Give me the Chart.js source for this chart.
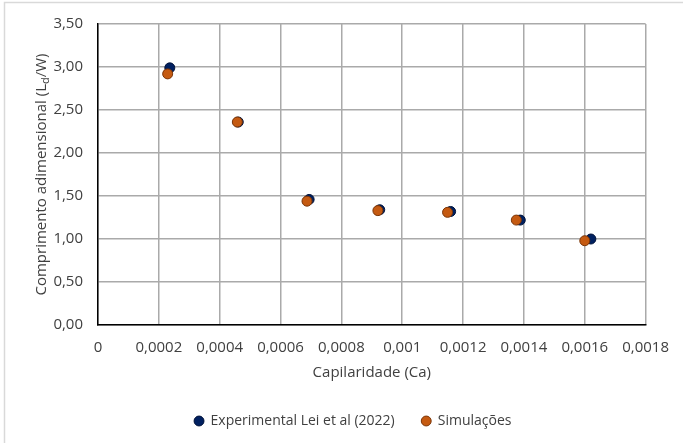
<!DOCTYPE html>
<html>
<head>
<meta charset="utf-8">
<script src="https://cdn.jsdelivr.net/npm/chart.js@4"></script>
<style>
html,body{margin:0;padding:0;background:#fff;}
#wrap{width:683px;height:443px;position:relative;}
</style>
</head>
<body>
<div id="wrap"><canvas id="c" width="683" height="443"></canvas></div>
<script>
const expX = [0.000236, 0.000461, 0.000694, 0.000926, 0.001159, 0.001388, 0.00162];
const expY = [2.99, 2.36, 1.46, 1.34, 1.32, 1.22, 1.00];
const simX = [0.000229, 0.000458, 0.000687, 0.000920, 0.001149, 0.001375, 0.001600];
const simY = [2.92, 2.36, 1.44, 1.33, 1.31, 1.22, 0.98];
const xTickLabels = ["0","0,0002","0,0004","0,0006","0,0008","0,001","0,0012","0,0014","0,0016","0,0018"];
const yTickLabels = ["0,00","0,50","1,00","1,50","2,00","2,50","3,00","3,50"];
const seriesNames = ["Experimental Lei et al (2022)", "Simulações"];

const FONT = "Open Sans";
const TXT = "#404040";

const framePlugin = {
  id: 'frame',
  beforeDraw(chart) {
    const ctx = chart.ctx;
    ctx.save();
    ctx.fillStyle = '#fff';
    ctx.fillRect(0, 0, chart.width, chart.height);
    ctx.strokeStyle = '#d9d9d9';
    ctx.lineWidth = 1.5;
    ctx.strokeRect(4.5, 2.5, chart.width + 10, chart.height + 10);
    ctx.restore();
  }
};

const legendShift = {
  id: 'legendShift',
  afterLayout(chart) {
    const lg = chart.legend;
    if (!lg) return;
    lg.left += 28; lg.right += 28;
    lg.top += 5; lg.bottom += 5;
  }
};

const yTitlePlugin = {
  id: 'ytitle',
  afterDraw(chart) {
    const ctx = chart.ctx;
    const a = chart.chartArea;
    const cy = (a.top + a.bottom) / 2;
    ctx.save();
    ctx.translate(42, cy);
    ctx.rotate(-Math.PI / 2);
    ctx.fillStyle = TXT;
    ctx.textBaseline = 'middle';
    const f1 = '15px "' + FONT + '"', f2 = '11px "' + FONT + '"';
    const p1 = 'Comprimento adimensional (L', p2 = 'd', p3 = '/W)';
    ctx.font = f1; const w1 = ctx.measureText(p1).width, w3 = ctx.measureText(p3).width;
    ctx.font = f2; const w2 = ctx.measureText(p2).width;
    let x = -(w1 + w2 + w3) / 2;
    ctx.font = f1; ctx.fillText(p1, x, 0); x += w1;
    ctx.font = f2; ctx.fillText(p2, x, 4); x += w2;
    ctx.font = f1; ctx.fillText(p3, x, 0);
    ctx.restore();
  }
};

new Chart(document.getElementById('c'), {
  type: 'scatter',
  data: {
    datasets: [
      {
        label: seriesNames[0],
        data: expX.map((x, i) => ({x, y: expY[i]})),
        backgroundColor: '#002060',
        borderColor: '#00123a',
        borderWidth: 1,
        pointRadius: 5,
        order: 2
      },
      {
        label: seriesNames[1],
        data: simX.map((x, i) => ({x, y: simY[i]})),
        backgroundColor: '#c55a11',
        borderColor: '#7a3508',
        borderWidth: 1,
        pointRadius: 5,
        order: 1
      }
    ]
  },
  options: {
    responsive: false,
    animation: false,
    devicePixelRatio: 1,
    layout: { padding: { left: 0, top: 22, right: 33, bottom: 10 } },
    plugins: {
      tooltip: { enabled: false },
      legend: {
        position: 'bottom',
        labels: {
          usePointStyle: true,
          pointStyle: 'circle',
          boxWidth: 9,
          boxHeight: 7,
          padding: 27,
          color: TXT,
          font: { family: FONT, size: 14 },
          sort: (a, b) => a.datasetIndex - b.datasetIndex
        }
      }
    },
    scales: {
      x: {
        type: 'linear',
        min: 0, max: 0.0018,
        ticks: {
          stepSize: 0.0002,
          padding: 14,
          color: TXT,
          font: { family: FONT, size: 15 },
          maxRotation: 0,
          autoSkip: false,
          callback: (v, i) => xTickLabels[i]
        },
        grid: { color: '#aaaaaa', lineWidth: 1.5, drawTicks: false },
        border: { color: '#000', width: 1.5 },
        title: {
          display: true,
          text: 'Capilaridade (Ca)',
          color: TXT,
          font: { family: FONT, size: 15 },
          padding: { top: 6, bottom: 0 }
        },
        afterFit(s) { s.height = 57; }
      },
      y: {
        type: 'linear',
        min: 0, max: 3.5,
        ticks: {
          stepSize: 0.5,
          padding: 15,
          color: TXT,
          font: { family: FONT, size: 15 },
          callback: (v, i) => yTickLabels[i]
        },
        grid: { color: '#aaaaaa', lineWidth: 1.5, drawTicks: false },
        border: { color: '#000', width: 1.5 },
        afterFit(s) { s.width = 98; }
      }
    }
  },
  plugins: [framePlugin, legendShift, yTitlePlugin]
});
</script>
</body>
</html>
